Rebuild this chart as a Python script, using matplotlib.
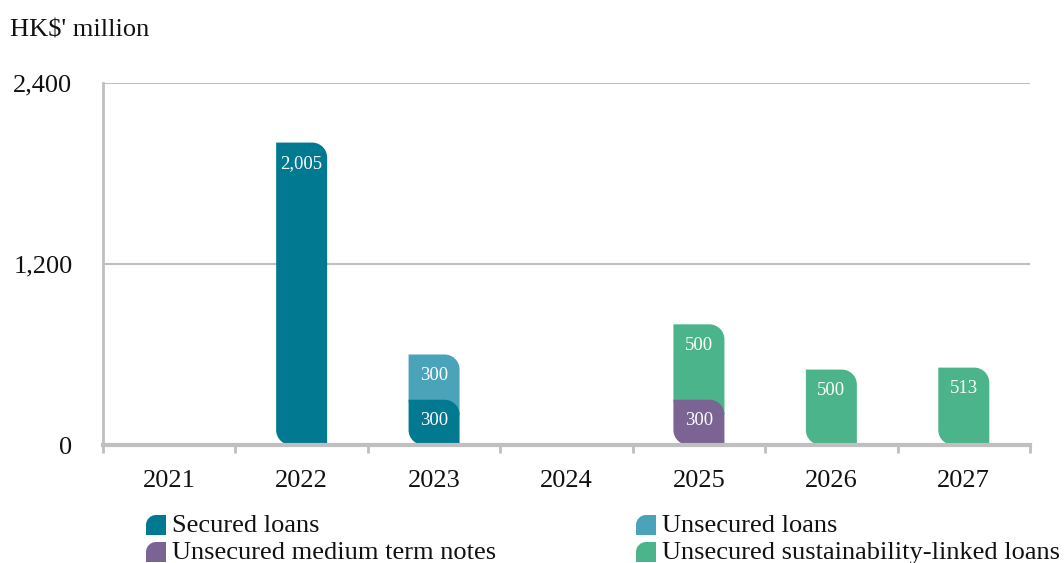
import matplotlib
matplotlib.use("Agg")
import matplotlib.pyplot as plt
from matplotlib.path import Path
from matplotlib.patches import PathPatch
import numpy as np

years = ['2021', '2022', '2023', '2024', '2025', '2026', '2027']
secured = [0, 2005, 300, 0, 0, 0, 0]
unsecured = [0, 0, 300, 0, 0, 0, 0]
mtn = [0, 0, 0, 0, 300, 0, 0]
sll = [0, 0, 0, 0, 500, 500, 513]
series_names = ['Secured loans', 'Unsecured loans', 'Unsecured medium term notes',
                'Unsecured sustainability-linked loans']
colors = ['#007991', '#4BA3B9', '#7B6394', '#4BB48A']
yticks = [0, 1200, 2400]
ytick_labels = ['0', '1,200', '2,400']

plt.rcParams['font.family'] = ['Liberation Serif', 'DejaVu Serif']

W, H = 1064, 563
fig = plt.figure(figsize=(W / 100, H / 100), dpi=100)
ax_l, ax_r, ax_t, ax_b = 103, 1030, 83, 445
ax = fig.add_axes([ax_l / W, 1 - ax_b / H, (ax_r - ax_l) / W, (ax_b - ax_t) / H])
ax.set_xlim(-0.5, 6.5)
ax.set_ylim(0, 2400)

px_x = (ax_r - ax_l) / 7.0
px_y = (ax_b - ax_t) / 2400.0
r_px = 15
rx = r_px / px_x
ry = r_px / px_y
K = 0.5523


def leaf_path(x0, x1, y0, y1, rx, ry):
    # top-left square, top-right rounded, bottom-right square, bottom-left rounded
    rxx = min(rx, (x1 - x0))
    ryy = min(ry, (y1 - y0) / 2)
    v = [(x0, y1), (x1 - rxx, y1),
         (x1 - rxx + K * rxx, y1), (x1, y1 - ryy + K * ryy), (x1, y1 - ryy),
         (x1, y0), (x0 + rxx, y0),
         (x0 + rxx - K * rxx, y0), (x0, y0 + ryy - K * ryy), (x0, y0 + ryy),
         (x0, y1)]
    c = [Path.MOVETO, Path.LINETO,
         Path.CURVE4, Path.CURVE4, Path.CURVE4,
         Path.LINETO, Path.LINETO,
         Path.CURVE4, Path.CURVE4, Path.CURVE4,
         Path.CLOSEPOLY]
    return Path(v, c)


bw = 51 / px_x
data = [secured, unsecured, mtn, sll]
bottom = np.zeros(len(years))
for si, vals in enumerate(data):
    for i, v in enumerate(vals):
        if v <= 0:
            continue
        b = bottom[i]
        y0 = b - ry if b > 0 else b
        p = leaf_path(i - bw / 2, i + bw / 2, y0, b + v, rx, ry)
        ax.add_patch(PathPatch(p, facecolor=colors[si], edgecolor='none', zorder=10 - si))
        ax.annotate(f'{v:,}', xy=(i, b + v), xytext=(0, -21 * 0.72), textcoords='offset points',
                    ha='center', va='center', color='white', fontsize=13.5, zorder=20)
    bottom += np.array(vals)

grid_c = '#BFBFBF'
for yv in yticks[1:]:
    ax.axhline(yv, color=grid_c, lw=1.5, zorder=1)
for s in ['top', 'right']:
    ax.spines[s].set_visible(False)
ax.spines['left'].set_color(grid_c)
ax.spines['left'].set_linewidth(2)
ax.spines['bottom'].set_color(grid_c)
ax.spines['bottom'].set_linewidth(3)
ax.spines['bottom'].set_zorder(15)

ax.set_yticks(yticks)
ax.set_yticklabels(ytick_labels, fontsize=19, color='#111111')
ax.tick_params(axis='y', length=0, pad=22)
ax.set_xticks(range(len(years)))
ax.set_xticklabels(years, fontsize=19, color='#111111')
ax.tick_params(axis='x', which='major', length=0, pad=18)
ax.set_xticks(np.arange(-0.5, 7, 1), minor=True)
ax.tick_params(axis='x', which='minor', length=6, width=2, color=grid_c)

fig.text(10 / W, 1 - 31 / H, "HK$' million", fontsize=19, ha='left', va='center', color='#111111')


def legend_marker(x0px, ycpx, color):
    s = 20
    x0 = x0px / W
    x1 = (x0px + s) / W
    y0 = 1 - (ycpx + s / 2) / H
    y1 = 1 - (ycpx - s / 2) / H
    rxx = 10 / W
    ryy = 10 / H
    v = [(x0, y0), (x1, y0), (x1, y1), (x0 + rxx, y1),
         (x0 + rxx - K * rxx, y1), (x0, y1 - ryy + K * ryy), (x0, y1 - ryy),
         (x0, y0)]
    c = [Path.MOVETO, Path.LINETO, Path.LINETO, Path.LINETO,
         Path.CURVE4, Path.CURVE4, Path.CURVE4, Path.CLOSEPOLY]
    fig.add_artist(PathPatch(Path(v, c), facecolor=color, edgecolor='none',
                             transform=fig.transFigure))


leg_pos = [(146, 525), (636, 525), (146, 552), (636, 552)]
for (xp, yp), name, col in zip(leg_pos, series_names, colors):
    legend_marker(xp, yp, col)
    fig.text((xp + 26) / W, 1 - (yp + 1) / H, name, fontsize=19, ha='left', va='center',
             color='#111111')

fig.savefig('out.png', dpi=100)
